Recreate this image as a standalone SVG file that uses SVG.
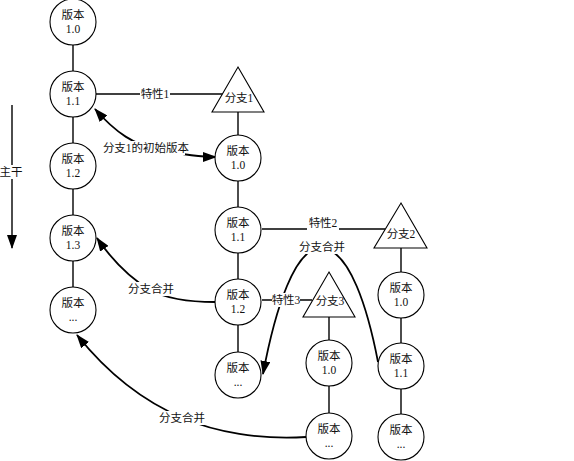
<svg xmlns="http://www.w3.org/2000/svg" width="574" height="461" viewBox="0 0 574 461">
<defs>
<marker id="ah" viewBox="0 0 14 10" refX="13" refY="5" markerWidth="14" markerHeight="10" markerUnits="userSpaceOnUse" orient="auto-start-reverse">
<path d="M0,0 L14,5 L0,10 z" fill="#000"/>
</marker>
<style>
.n{fill:#fff;stroke:#000;stroke-width:1.1}
.t{font-family:"Liberation Serif","Noto Sans CJK SC",serif;font-size:11.5px;fill:#111;text-anchor:middle}
.l{stroke:#000;stroke-width:1.4;fill:none}
.c{stroke:#000;stroke-width:1.8;fill:none}
.bg{fill:#fff}
</style>
</defs>
<rect width="574" height="461" fill="#fff"/>
<g id="connectors">
<line class="l" x1="73" y1="45" x2="73" y2="71"/>
<line class="l" x1="73" y1="117" x2="73" y2="143"/>
<line class="l" x1="73" y1="189" x2="73" y2="215"/>
<line class="l" x1="73" y1="261" x2="73" y2="287"/>
<line class="l" x1="238" y1="112" x2="238" y2="135"/>
<line class="l" x1="238" y1="181" x2="238" y2="207"/>
<line class="l" x1="238" y1="253" x2="238" y2="279"/>
<line class="l" x1="238" y1="325" x2="238" y2="352"/>
<line class="l" x1="401" y1="248" x2="401" y2="272"/>
<line class="l" x1="401" y1="318" x2="401" y2="343"/>
<line class="l" x1="401" y1="389" x2="401" y2="414"/>
<line class="l" x1="329" y1="317" x2="329" y2="340"/>
<line class="l" x1="329" y1="386" x2="329" y2="413"/>
<line class="l" x1="96" y1="94" x2="223" y2="94"/>
<line class="l" x1="262" y1="229" x2="385" y2="229"/>
<line class="l" x1="262" y1="300" x2="312" y2="300"/>
<line class="l" x1="12" y1="105" x2="12" y2="248" marker-end="url(#ah)"/>
<path class="c" d="M95,109 C115,132 135,146 160,150 C185,155 200,157 216,157" marker-start="url(#ah)" marker-end="url(#ah)"/>
<path class="c" d="M215,302 C185,302 165,298 150,290 C130,278 112,260 97,238" marker-end="url(#ah)"/>
<path class="c" d="M378,362 C368,310 350,250 322,248 C295,246 275,310 263,374" marker-end="url(#ah)"/>
<path class="c" d="M306,437 C260,440 215,432 183,418 C140,400 105,370 77,335" marker-end="url(#ah)"/>
</g>
<g id="labels">
<rect class="bg" x="140" y="87" width="30" height="14"/>
<text class="t" x="155" y="98">特性1</text>
<rect class="bg" x="307" y="218" width="32" height="14"/>
<text class="t" x="323" y="227">特性2</text>
<rect class="bg" x="272" y="293" width="28" height="14"/>
<text class="t" x="286" y="304">特性3</text>
<rect class="bg" x="107" y="141" width="78" height="14"/>
<text class="t" x="146" y="152">分支1的初始版本</text>
<rect class="bg" x="128" y="282" width="46" height="14"/>
<text class="t" x="151" y="293">分支合并</text>
<rect class="bg" x="298" y="240" width="48" height="14"/>
<text class="t" x="322" y="251">分支合并</text>
<rect class="bg" x="159" y="411" width="46" height="14"/>
<text class="t" x="182" y="422">分支合并</text>
<rect class="bg" x="0" y="165" width="24" height="14"/>
<text class="t" x="11" y="176">主干</text>
</g>
<g id="trunk-1.0"><circle class="n" cx="73" cy="22" r="23"/><text class="t" x="73" y="19">版本</text><text class="t" x="73" y="33">1.0</text></g>
<g id="trunk-1.1"><circle class="n" cx="73" cy="94" r="23"/><text class="t" x="73" y="91">版本</text><text class="t" x="73" y="105">1.1</text></g>
<g id="trunk-1.2"><circle class="n" cx="73" cy="166" r="23"/><text class="t" x="73" y="163">版本</text><text class="t" x="73" y="177">1.2</text></g>
<g id="trunk-1.3"><circle class="n" cx="73" cy="238" r="23"/><text class="t" x="73" y="235">版本</text><text class="t" x="73" y="249">1.3</text></g>
<g id="trunk-more"><circle class="n" cx="73" cy="310" r="23"/><text class="t" x="73" y="307">版本</text><text class="t" x="73" y="321">...</text></g>
<g id="branch1"><polygon class="n" points="238,67 264,112 212,112"/><text class="t" x="239" y="102">分支1</text></g>
<g id="b1-1.0"><circle class="n" cx="238" cy="158" r="23"/><text class="t" x="238" y="155">版本</text><text class="t" x="238" y="169">1.0</text></g>
<g id="b1-1.1"><circle class="n" cx="238" cy="230" r="23"/><text class="t" x="238" y="227">版本</text><text class="t" x="238" y="241">1.1</text></g>
<g id="b1-1.2"><circle class="n" cx="238" cy="302" r="23"/><text class="t" x="238" y="299">版本</text><text class="t" x="238" y="313">1.2</text></g>
<g id="b1-more"><circle class="n" cx="238" cy="375" r="23"/><text class="t" x="238" y="372">版本</text><text class="t" x="238" y="386">...</text></g>
<g id="branch2"><polygon class="n" points="401,203 427,248 374,248"/><text class="t" x="401" y="238">分支2</text></g>
<g id="b2-1.0"><circle class="n" cx="401" cy="295" r="23"/><text class="t" x="401" y="292">版本</text><text class="t" x="401" y="306">1.0</text></g>
<g id="b2-1.1"><circle class="n" cx="401" cy="366" r="23"/><text class="t" x="401" y="363">版本</text><text class="t" x="401" y="377">1.1</text></g>
<g id="b2-more"><circle class="n" cx="401" cy="437" r="23"/><text class="t" x="401" y="434">版本</text><text class="t" x="401" y="448">...</text></g>
<g id="branch3"><polygon class="n" points="329,272 355,317 303,317"/><text class="t" x="330" y="305">分支3</text></g>
<g id="b3-1.0"><circle class="n" cx="329" cy="363" r="23"/><text class="t" x="329" y="360">版本</text><text class="t" x="329" y="374">1.0</text></g>
<g id="b3-more"><circle class="n" cx="329" cy="436" r="23"/><text class="t" x="329" y="433">版本</text><text class="t" x="329" y="447">...</text></g>
</svg>
